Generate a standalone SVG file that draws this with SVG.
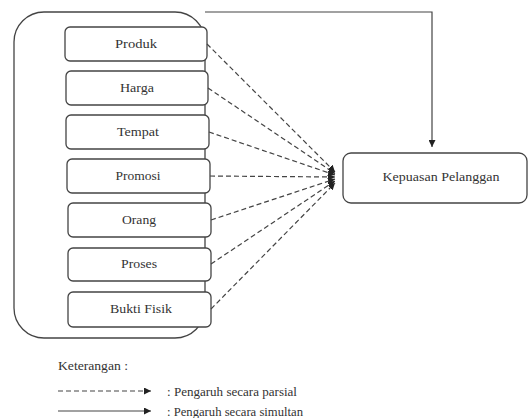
<svg xmlns="http://www.w3.org/2000/svg" width="529" height="418" viewBox="0 0 529 418">
<style>
.box{fill:#fff;stroke:#444;stroke-width:1.3}
.t{text-anchor:middle}
.dash{fill:none;stroke:#444;stroke-width:1.2;stroke-dasharray:5,3}
.solid{fill:none;stroke:#444;stroke-width:1.2}
</style>
<defs>
<marker id="ah" viewBox="0 0 10 10" refX="10" refY="5" markerWidth="7" markerHeight="7" markerUnits="userSpaceOnUse" orient="auto">
<path d="M0,0 L10,5 L0,10 z" fill="#222"/>
</marker>
</defs>
<g font-family="Times New Roman, Liberation Serif, DejaVu Serif, serif" font-size="12" fill="#333">
<rect id="outer" x="14" y="12" width="191" height="326" rx="30" ry="30" fill="none" stroke="#444" stroke-width="1.3"/>
<g id="produk"><rect class="box" x="65" y="27" width="142" height="34" rx="5"/><text class="t" x="136" y="48" textLength="42" lengthAdjust="spacingAndGlyphs">Produk</text></g>
<g id="harga"><rect class="box" x="66" y="71" width="142" height="34" rx="5"/><text class="t" x="137" y="92" textLength="34" lengthAdjust="spacingAndGlyphs">Harga</text></g>
<g id="tempat"><rect class="box" x="66" y="115" width="143" height="34" rx="5"/><text class="t" x="138" y="136" textLength="42" lengthAdjust="spacingAndGlyphs">Tempat</text></g>
<g id="promosi"><rect class="box" x="67" y="159" width="143" height="34" rx="5"/><text class="t" x="138" y="180" textLength="45" lengthAdjust="spacingAndGlyphs">Promosi</text></g>
<g id="orang"><rect class="box" x="68" y="203" width="143" height="34" rx="5"/><text class="t" x="139" y="224" textLength="34" lengthAdjust="spacingAndGlyphs">Orang</text></g>
<g id="proses"><rect class="box" x="68" y="248" width="143" height="33" rx="5"/><text class="t" x="139" y="268" textLength="36" lengthAdjust="spacingAndGlyphs">Proses</text></g>
<g id="bukti"><rect class="box" x="68" y="292" width="143" height="35" rx="5"/><text class="t" x="141" y="313" textLength="62" lengthAdjust="spacingAndGlyphs">Bukti Fisik</text></g>
<g id="kepuasan"><rect class="box" x="343" y="153" width="184" height="50" rx="8"/><text class="t" x="441" y="181" textLength="117" lengthAdjust="spacingAndGlyphs">Kepuasan Pelanggan</text></g>
<g id="connectors">
<path class="dash" d="M207,44 L335,172" marker-end="url(#ah)"/>
<path class="dash" d="M208,88 L335,173.5" marker-end="url(#ah)"/>
<path class="dash" d="M209,132 L335,175" marker-end="url(#ah)"/>
<path class="dash" d="M210,176 L335,177" marker-end="url(#ah)"/>
<path class="dash" d="M211,220 L335,179" marker-end="url(#ah)"/>
<path class="dash" d="M211,264 L335,181" marker-end="url(#ah)"/>
<path class="dash" d="M211,309 L335,183" marker-end="url(#ah)"/>
<path class="solid" d="M205,12 L432,12 L432,147" marker-end="url(#ah)"/>
</g>
<g id="legend">
<text x="58" y="370" textLength="70" lengthAdjust="spacingAndGlyphs">Keterangan :</text>
<path class="dash" d="M58,391 L151,391" stroke-dasharray="4,3" marker-end="url(#ah)"/>
<text x="167" y="396" textLength="130" lengthAdjust="spacingAndGlyphs">: Pengaruh secara parsial</text>
<path class="solid" d="M58,411 L151,411" marker-end="url(#ah)"/>
<text x="167" y="416" textLength="136" lengthAdjust="spacingAndGlyphs">: Pengaruh secara simultan</text>
</g>
</g>
</svg>
